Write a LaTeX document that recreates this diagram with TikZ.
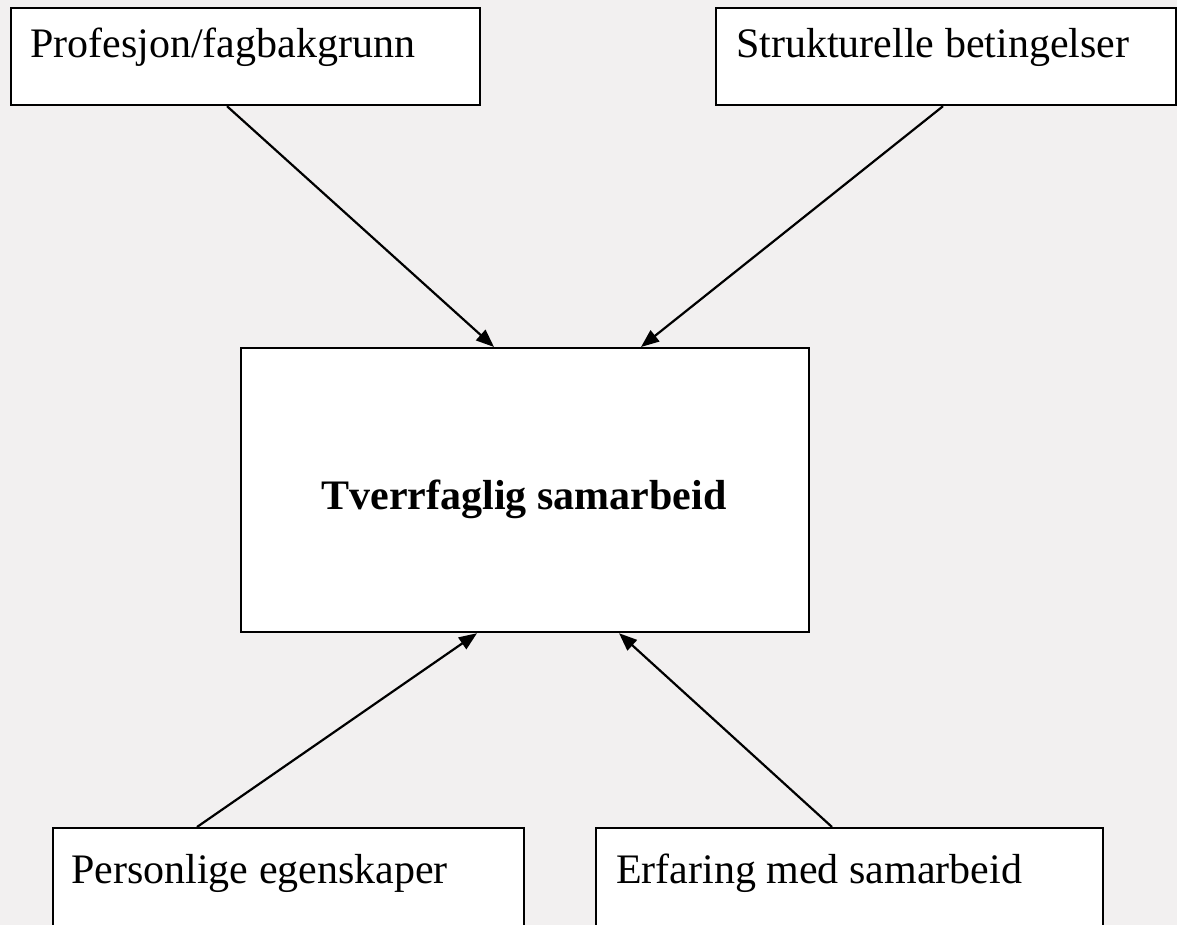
\documentclass[tikz,border=0pt]{standalone}
\usepackage{fontspec}
\setmainfont{Liberation Serif}
\usetikzlibrary{arrows.meta}
\definecolor{bgc}{HTML}{F2F0F0}
\begin{document}
\begin{tikzpicture}[x=1pt,y=-1pt,
  box/.style={draw=black,fill=white,line width=2.2pt,rectangle,inner sep=0pt,anchor=north west},
  txt/.style={anchor=base west,inner sep=0pt,font=\fontsize{42}{50}\selectfont},
  conn/.style={line width=2.2pt,-{Triangle[length=18pt,width=14pt]}}]
\useasboundingbox (0,0) rectangle (1177,925);
\clip (0,0) rectangle (1177,925);
\fill[bgc] (0,0) rectangle (1177,925);
\node[box,minimum width=469pt,minimum height=97pt] (b1) at (10,7) {};
\node[txt] (t1) at (30,58) {Profesjon/fagbakgrunn};
\node[box,minimum width=460pt,minimum height=97pt] (b2) at (715,7) {};
\node[txt] (t2) at (736,58) {Strukturelle betingelser};
\node[box,minimum width=568pt,minimum height=284pt] (c) at (240,347) {};
\node[anchor=base,inner sep=0pt,font=\fontsize{42}{50}\selectfont\bfseries] (tc) at (524,509) {Tverrfaglig samarbeid};
\node[box,minimum width=471pt,minimum height=140pt] (b3) at (52,827) {};
\node[txt] (t3) at (71,883) {Personlige egenskaper};
\node[box,minimum width=507pt,minimum height=140pt] (b4) at (595,827) {};
\node[txt] (t4) at (616,883) {Erfaring med samarbeid};
\draw[conn] ([xshift=217pt]b1.south west) -- ([xshift=254pt]c.north west);
\draw[conn] ([xshift=228pt]b2.south west) -- ([xshift=401pt]c.north west);
\draw[conn] ([xshift=145pt]b3.north west) -- ([xshift=237pt]c.south west);
\draw[conn] ([xshift=237pt]b4.north west) -- ([xshift=379pt]c.south west);
\end{tikzpicture}
\end{document}
